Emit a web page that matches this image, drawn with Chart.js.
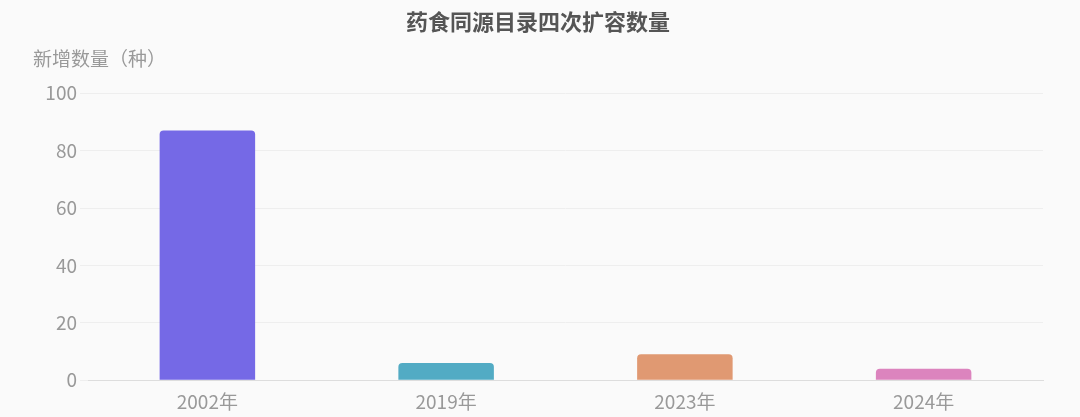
<!DOCTYPE html>
<html>
<head>
<meta charset="utf-8">
<script src="https://cdn.jsdelivr.net/npm/chart.js@4/dist/chart.umd.min.js"></script>
<style>
  html, body { margin: 0; padding: 0; background: #fafafa; }
  #wrap { width: 1080px; height: 417px; }
</style>
</head>
<body>
<div id="wrap"><canvas id="c"></canvas></div>
<script>
// 数据
const years = ['2002年', '2019年', '2023年', '2024年'];
const counts = [87, 6, 9, 4];
const barColors = ['#7569e6', '#52abc4', '#e09972', '#dc84be'];
const yTicks = [0, 20, 40, 60, 80, 100];

const fontFamily = '"Noto Sans CJK SC", "Noto Sans", sans-serif';

new Chart(document.getElementById('c'), {
    type: 'bar',
    data: {
        labels: years,
        datasets: [{
            data: counts,
            backgroundColor: barColors,
            borderRadius: { topLeft: 4, topRight: 4 },
            borderSkipped: 'bottom',
            categoryPercentage: 0.4,
            barPercentage: 1
        }]
    },
    options: {
        responsive: true,
        maintainAspectRatio: false,
        animation: false,
        layout: { padding: { left: 33, right: 37, bottom: 2 } },
        plugins: {
            legend: { display: false },
            tooltip: { enabled: false },
            title: {
                display: true,
                text: '药食同源目录四次扩容数量',
                color: '#555555',
                font: { family: fontFamily, size: 22, weight: 'bold' },
                padding: { top: 8, bottom: 13 }
            },
            subtitle: {
                display: true,
                text: '新增数量（种）',
                align: 'start',
                color: '#999999',
                font: { family: fontFamily, size: 19 },
                padding: { top: 0, bottom: 23 }
            }
        },
        scales: {
            x: {
                grid: { display: false },
                border: { color: '#dddddd' },
                ticks: { color: '#999999', font: { family: fontFamily, size: 19 }, padding: 2 }
            },
            y: {
                min: 0,
                max: 100,
                afterFit: (s) => { s.width = 55; },
                afterBuildTicks: (s) => { s.ticks = yTicks.map(v => ({ value: v })); },
                grid: { color: '#eeeeee' },
                border: { display: false },
                ticks: { color: '#999999', font: { family: fontFamily, size: 19 }, padding: 3 }
            }
        }
    }
});
</script>
</body>
</html>
